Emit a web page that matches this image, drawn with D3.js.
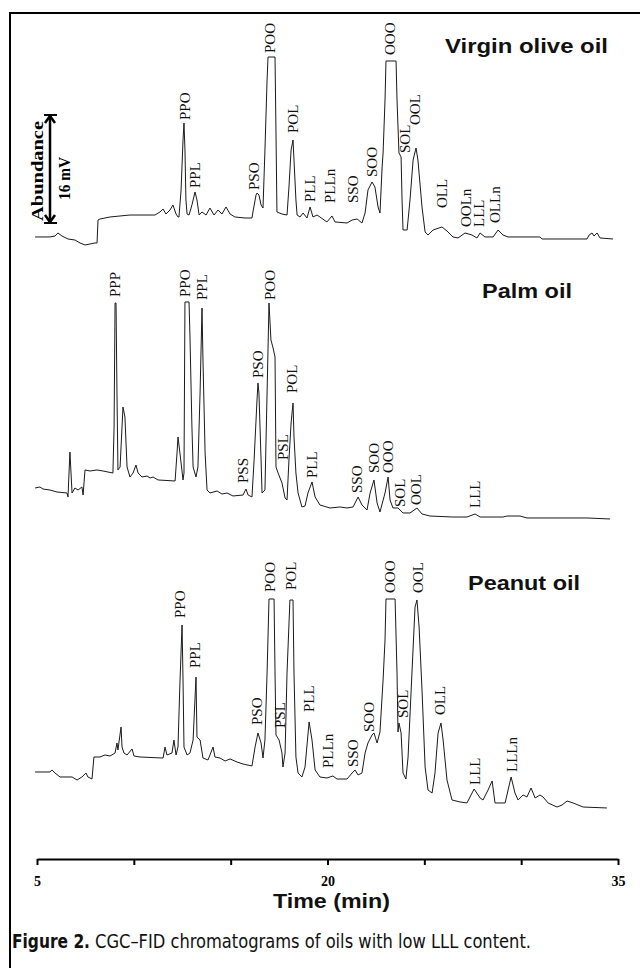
<!DOCTYPE html>
<meta charset="utf-8">
<style>
body { margin: 0; background: #fff; }
svg { display: block; }
.trace { fill: none; stroke: #1a1a1a; stroke-width: 1px; stroke-linejoin: round; }
.peak { font-family: "Liberation Serif", "Times New Roman", serif; font-size: 15px; fill: #111; }
.oil { font-family: "Liberation Sans", Arial, sans-serif; font-weight: bold; font-size: 20px; fill: #111; }
.axis path, .axis line { stroke: #000; stroke-width: 2px; }
.axis text { font-family: "Liberation Serif", "Times New Roman", serif; font-weight: bold; font-size: 14px; fill: #000; }
.caption { font-family: "Liberation Sans Narrow", "DejaVu Sans Condensed", "Arial Narrow", sans-serif; font-stretch: condensed; font-size: 20px; fill: #111; }
</style>
<body>
<script src="https://d3js.org/d3.v7.min.js"></script>
<script>

// retention time (min), abundance (mV above each panel's zero)
const virginOlive = [
  [4.90,1.19],[5.67,1.19],[5.93,1.33],[6.08,1.78],[6.29,1.33],[6.60,0.89],[6.96,0.74],[7.22,0.30],
  [7.48,0],[7.74,0.15],[7.99,0.30],[8.10,0.30],[8.15,3.70],[8.25,3.85],[8.51,4.00],[8.77,4.15],
  [9.29,4.30],[9.80,4.44],[11.09,4.44],[11.35,4.89],[11.51,5.33],[11.66,4.59],[11.87,5.19],[12.02,5.93],
  [12.18,4.59],[12.28,4.15],[12.33,4.15],[12.44,8.15],[12.54,15.56],[12.59,18.07],[12.64,14.07],[12.69,6.67],
  [12.75,4.59],[12.85,4.44],[13.00,5.93],[13.16,7.85],[13.26,6.67],[13.37,4.44],[13.52,4.89],[13.73,4.44],
  [13.93,5.48],[14.14,4.44],[14.35,5.19],[14.55,4.59],[14.76,5.63],[14.97,4.59],[15.22,4.15],[15.74,4.00],
  [16.10,4.00],[16.15,4.89],[16.31,7.41],[16.36,7.70],[16.46,7.41],[16.57,5.93],[16.67,5.48],[16.77,14.07],
  [16.88,24.44],[16.93,27.85],[17.29,27.85],[17.34,16.59],[17.39,4.89],[17.65,4.59],[17.91,4.44],[18.01,8.59],
  [18.12,14.07],[18.22,15.56],[18.27,12.59],[18.37,6.67],[18.43,4.44],[18.58,4.15],[18.74,4.74],[18.94,4.00],
  [19.10,5.63],[19.25,4.15],[19.46,4.44],[19.61,4.15],[19.97,3.41],[20.23,4.30],[20.39,3.41],[21.01,3.26],
  [21.27,3.70],[21.53,3.85],[21.78,3.26],[21.94,4.74],[22.09,8.15],[22.30,9.33],[22.45,8.59],[22.61,5.63],
  [22.71,4.74],[22.82,11.56],[22.87,13.63],[22.97,21.48],[23.02,27.26],[23.54,27.26],[23.59,21.48],[23.69,13.63],
  [23.80,13.04],[23.85,6.67],[23.90,2.22],[24.11,2.22],[24.26,6.67],[24.42,12.59],[24.57,14.37],[24.67,12.59],
  [24.88,5.63],[25.04,1.93],[25.19,1.48],[25.45,2.22],[25.91,2.67],[26.17,2.07],[26.48,1.19],[26.74,1.04],
  [27.10,1.78],[27.46,1.48],[27.72,1.04],[27.88,1.78],[28.13,1.19],[28.55,1.19],[28.81,2.22],[29.06,1.48],
  [29.32,1.19],[30.97,1.19],[31.08,0.89],[33.40,0.89],[33.51,1.48],[33.66,1.78],[33.76,1.33],[33.92,1.78],
  [34.07,1.04],[34.74,0.89]
];

const palm = [
  [4.90,4.74],[5.15,4.89],[5.31,4.59],[5.67,4.44],[6.03,4.15],[6.55,4.00],[6.60,3.41],[6.70,10.07],
  [6.81,4.00],[6.96,4.74],[7.12,4.44],[7.32,4.89],[7.38,3.70],[7.48,7.41],[7.74,7.26],[8.10,7.41],
  [8.41,7.26],[8.92,6.96],[8.98,13.78],[9.03,32.15],[9.08,32.15],[9.13,18.81],[9.18,7.41],[9.29,7.85],
  [9.39,13.78],[9.44,16.74],[9.54,15.26],[9.65,7.85],[9.80,6.37],[9.96,6.96],[10.11,8.15],[10.22,6.96],
  [10.42,6.37],[10.68,6.52],[10.84,6.22],[10.99,6.37],[11.25,5.93],[12.13,5.78],[12.23,9.93],[12.28,12.30],
  [12.38,9.93],[12.54,5.93],[12.59,6.96],[12.64,32.30],[12.85,32.30],[12.90,27.11],[13.00,13.78],[13.06,7.85],
  [13.21,6.37],[13.31,7.85],[13.42,18.81],[13.52,31.41],[13.57,23.70],[13.68,9.93],[13.78,4.44],[13.93,4.00],
  [14.30,4.30],[14.55,3.85],[14.81,4.00],[15.12,3.56],[15.64,3.70],[15.79,4.59],[15.90,3.70],[16.10,3.41],
  [16.21,8.89],[16.36,17.78],[16.41,20.30],[16.46,18.81],[16.57,8.89],[16.62,4.00],[16.77,4.44],[16.88,18.81],
  [16.98,32.15],[17.08,26.67],[17.19,25.48],[17.29,24.15],[17.34,7.85],[17.45,6.96],[17.65,5.48],[17.81,3.26],
  [17.91,2.96],[18.01,8.89],[18.12,14.37],[18.22,17.33],[18.27,12.30],[18.37,6.96],[18.48,4.00],[18.68,1.93],
  [18.84,2.07],[18.99,4.00],[19.20,5.63],[19.36,3.41],[19.61,2.22],[20.13,1.78],[20.65,1.93],[21.01,1.78],
  [21.32,1.93],[21.58,3.41],[21.78,2.22],[22.04,1.48],[22.20,4.00],[22.40,5.93],[22.56,2.52],[22.71,1.19],
  [22.97,4.00],[23.13,6.37],[23.23,2.96],[23.38,1.78],[23.64,1.78],[23.90,1.04],[24.26,1.04],[24.62,1.78],
  [24.88,0.89],[25.29,0.59],[26.48,0.44],[27.20,0.44],[27.62,0.89],[27.88,0.44],[29.06,0.44],[29.27,0.59],
  [29.94,0.59],[30.30,0.30],[33.40,0.30],[34.59,0.15]
];

const peanut = [
  [4.90,5.63],[5.67,5.63],[5.77,5.93],[5.93,5.48],[6.19,4.89],[6.81,4.89],[7.07,4.44],[7.32,4.89],
  [7.53,5.48],[7.63,4.89],[7.84,4.59],[7.94,7.85],[8.25,7.85],[8.51,8.15],[8.77,8.00],[9.03,8.44],
  [9.13,9.93],[9.18,8.89],[9.34,12.30],[9.39,9.33],[9.49,8.44],[9.65,8.15],[9.91,9.04],[10.01,8.00],
  [10.32,7.85],[11.51,7.70],[11.61,9.33],[11.71,8.15],[11.97,8.44],[12.07,10.37],[12.18,8.15],[12.28,9.33],
  [12.38,18.81],[12.49,27.41],[12.54,19.26],[12.59,9.33],[12.75,8.15],[12.90,8.44],[13.06,10.37],[13.21,19.70],
  [13.26,10.81],[13.42,10.37],[13.57,7.70],[13.83,7.41],[14.09,9.33],[14.19,7.85],[14.45,7.70],[14.71,7.26],
  [14.97,7.56],[15.33,7.11],[15.64,6.81],[16.10,6.52],[16.26,9.33],[16.41,11.41],[16.57,9.93],[16.67,7.70],
  [16.77,10.37],[16.88,20.30],[16.98,31.26],[17.24,31.26],[17.29,20.30],[17.34,11.11],[17.50,10.37],[17.65,8.44],
  [17.70,6.37],[17.81,8.44],[17.91,20.30],[18.06,31.11],[18.22,31.11],[18.27,20.30],[18.37,7.85],[18.48,5.48],
  [18.68,4.89],[18.84,6.37],[19.05,13.04],[19.20,10.37],[19.36,5.93],[19.61,4.89],[19.97,4.74],[20.28,5.04],
  [20.49,4.59],[21.01,4.59],[21.27,5.48],[21.42,5.93],[21.58,5.19],[21.78,5.48],[21.94,8.44],[22.09,9.93],
  [22.30,11.11],[22.40,11.41],[22.56,9.93],[22.71,11.56],[22.87,19.26],[22.97,25.19],[23.02,31.26],[23.49,31.26],
  [23.59,20.30],[23.64,11.56],[23.69,12.89],[23.80,11.41],[23.90,5.48],[24.05,4.59],[24.16,7.85],[24.36,20.30],
  [24.52,30.07],[24.62,31.11],[24.73,27.11],[24.88,17.78],[25.04,6.37],[25.19,2.96],[25.40,2.52],[25.55,5.48],
  [25.71,11.41],[25.86,12.89],[25.97,10.37],[26.17,4.44],[26.43,1.48],[26.84,1.19],[27.20,1.04],[27.57,3.11],
  [27.88,1.78],[28.03,1.48],[28.29,2.96],[28.50,4.30],[28.65,1.04],[29.17,1.04],[29.48,4.89],[29.68,2.52],
  [29.84,1.48],[30.10,2.22],[30.30,1.93],[30.51,3.26],[30.72,1.78],[30.97,2.22],[31.13,1.93],[31.39,1.04],
  [31.85,0.44],[32.11,0.74],[32.37,1.33],[32.68,1.04],[33.20,0.44],[34.43,0.30]
];

// peak name, retention time, abundance where the label starts
const virginOliveLabels = [
  ["PPO",12.64,18.52],["PPL",13.16,8.44],["PSO",16.21,8.15],["POO",17.03,28.44],["POL",18.22,16.59],
  ["PLL",19.10,6.37],["PLLn",20.13,6.22],["SSO",21.32,6.22],["SOO",22.30,10.07],["OOO",23.23,28.15],
  ["SOL",24.00,13.63],["OOL",24.52,17.78],["OLL",25.91,5.48],["OOLn",27.15,2.67],["LLL",27.82,2.67],
  ["OLLn",28.65,3.26]
];
const palmLabels = [
  ["PPP",9.03,33.04],["PPO",12.64,33.04],["PPL",13.52,32.59],["POO",17.03,32.59],["PSO",16.41,21.04],
  ["POL",18.17,18.81],["PSS",15.64,5.48],["PSL",17.70,8.89],["PLL",19.20,6.22],["SSO",21.53,4.00],
  ["SOO",22.40,6.96],["OOO",23.13,6.96],["SOL",23.75,1.93],["OOL",24.57,2.22],["LLL",27.62,1.78]
];
const peanutLabels = [
  ["PPO",12.38,28.44],["PPL",13.16,21.04],["PSO",16.36,12.59],["POO",17.03,32.30],["PSL",17.55,12.15],
  ["POL",18.12,32.59],["PLL",19.05,14.52],["PLLn",20.03,6.22],["SSO",21.32,6.37],["SOO",22.14,11.56],
  ["OOO",23.23,32.15],["SOL",23.90,13.63],["OOL",24.67,32.15],["OLL",25.81,14.07],["LLL",27.62,3.70],
  ["LLLn",29.53,5.63]
];

const oilNames = ["Virgin olive oil", "Palm oil", "Peanut oil"];
const timeTicks = [5, 10, 15, 20, 25, 30, 35];
const timeTickLabels = [5, 20, 35];
const scaleBar = { from: 3.26, span: 16 }; // mV

const width = 640, height = 968;

const svg = d3.select("body").append("svg")
  .attr("width", width)
  .attr("height", height);

// frame (open on the right)
svg.append("path")
  .attr("d", "M10,968V13H642")
  .attr("fill", "none")
  .attr("stroke", "#000")
  .attr("stroke-width", 2);

let x = d3.scaleLinear().domain([5, 35]).range([37, 618]);

// each panel: its own zero line, 6.75 px per mV
let panels = [
  { data: virginOlive, labels: virginOliveLabels, zero: 245, title: [608, 53, 163] },
  { data: palm, labels: palmLabels, zero: 520, title: [572, 298, 90] },
  { data: peanut, labels: peanutLabels, zero: 810, title: [580, 590, 112] }
];

panels.forEach(function(p, i) {
  let y = d3.scaleLinear().domain([0, 16]).range([p.zero, p.zero - 108]);
  p.y = y;
  let line = d3.line()
    .x(function(d) { return x(d[0]); })
    .y(function(d) { return y(d[1]); });

  let g = svg.append("g").attr("class", "panel");

  g.append("path")
    .datum(p.data)
    .attr("class", "trace")
    .attr("d", line);

  g.selectAll("text.peak")
    .data(p.labels)
    .enter().append("text")
    .attr("class", "peak")
    .attr("transform", function(d) {
      return "translate(" + (x(d[1]) + 5) + "," + y(d[2]) + ") rotate(-90)";
    })
    .text(function(d) { return d[0]; });

  g.append("text")
    .attr("class", "oil")
    .attr("x", p.title[0] - p.title[2])
    .attr("y", p.title[1])
    .attr("textLength", p.title[2])
    .attr("lengthAdjust", "spacingAndGlyphs")
    .text(oilNames[i]);
});

/* ------- ABUNDANCE SCALE BAR -------*/
let y1 = panels[0].y;
let barTop = y1(scaleBar.from + scaleBar.span),
    barBot = y1(scaleBar.from),
    bx = 50;

let bar = svg.append("g")
  .attr("fill", "none")
  .attr("stroke", "#000")
  .attr("stroke-width", 2.5);
bar.append("line").attr("x1", bx).attr("x2", bx).attr("y1", barTop + 1).attr("y2", barBot - 1);
bar.append("line").attr("x1", bx - 6).attr("x2", bx + 7).attr("y1", barTop).attr("y2", barTop).attr("stroke-width", 2);
bar.append("line").attr("x1", bx - 6).attr("x2", bx + 7).attr("y1", barBot).attr("y2", barBot).attr("stroke-width", 2);
bar.append("path").attr("d", "M" + (bx - 5) + "," + (barTop + 8) + "L" + bx + "," + (barTop + 1) + "L" + (bx + 5) + "," + (barTop + 8));
bar.append("path").attr("d", "M" + (bx - 5) + "," + (barBot - 8) + "L" + bx + "," + (barBot - 1) + "L" + (bx + 5) + "," + (barBot - 8));

svg.append("text")
  .attr("transform", "translate(43," + (barBot - 2) + ") rotate(-90)")
  .attr("textLength", 100)
  .attr("lengthAdjust", "spacingAndGlyphs")
  .style("font-family", '"Liberation Serif", "Times New Roman", serif')
  .style("font-weight", "bold")
  .style("font-size", "16px")
  .text("Abundance");

svg.append("text")
  .attr("transform", "translate(70," + (barBot - 23) + ") rotate(-90)")
  .attr("textLength", 43)
  .attr("lengthAdjust", "spacingAndGlyphs")
  .style("font-family", '"Liberation Serif", "Times New Roman", serif')
  .style("font-weight", "bold")
  .style("font-size", "16px")
  .text("16 mV");

/* ------- TIME AXIS -------*/
let axis = d3.axisBottom(x)
  .tickValues(timeTicks)
  .tickFormat(function(d) { return timeTickLabels.includes(d) ? d : ""; })
  .tickSize(6)
  .tickSizeOuter(0)
  .tickPadding(11);

svg.append("g")
  .attr("class", "axis")
  .attr("transform", "translate(0,859)")
  .call(axis);

svg.append("text")
  .attr("class", "oil")
  .attr("x", 273)
  .attr("y", 908)
  .attr("textLength", 117)
  .attr("lengthAdjust", "spacingAndGlyphs")
  .style("font-size", "21px")
  .text("Time (min)");

/* ------- CAPTION -------*/
svg.append("text")
  .attr("class", "caption")
  .attr("x", 12)
  .attr("y", 948)
  .attr("textLength", 78)
  .attr("lengthAdjust", "spacingAndGlyphs")
  .style("font-weight", "bold")
  .text("Figure 2.");

svg.append("text")
  .attr("class", "caption")
  .attr("x", 95)
  .attr("y", 948)
  .attr("textLength", 436)
  .attr("lengthAdjust", "spacingAndGlyphs")
  .text("CGC\u2013FID chromatograms of oils with low LLL content.");

</script>
</body>
